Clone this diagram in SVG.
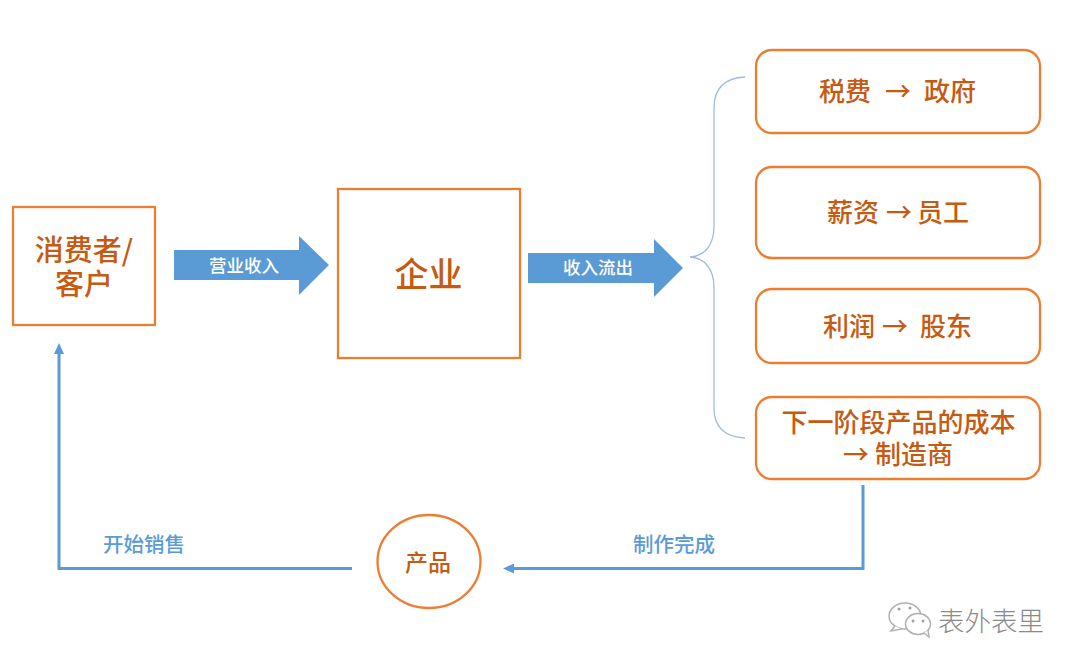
<svg xmlns="http://www.w3.org/2000/svg" width="1080" height="669" viewBox="0 0 1080 669">
<defs>
<marker id="ah" markerUnits="userSpaceOnUse" markerWidth="12" markerHeight="10" refX="1" refY="5" orient="auto"><path d="M0 0L11 5L0 10Z" fill="#5b9bd5"/></marker>
</defs>
<style>
text{font-family:"Noto Sans CJK SC","Liberation Sans",sans-serif;text-anchor:middle;font-weight:500}
.o{fill:#fff;stroke:#ed7d31;stroke-width:2.300}
.t{fill:#c55a11;font-size:26px}
.w{fill:#fff;font-size:17.500px}
.b{fill:#5b9bd5;font-size:20.500px}
.fl{fill:#5b9bd5;stroke:none}
.ln{fill:none;stroke:#5b9bd5;stroke-width:3}
.br{fill:none;stroke:#a3bbdc;stroke-width:1.300}
.wm{fill:#8a8a8a;font-size:26.500px;font-weight:300;text-anchor:start}
.wi{fill:#fff;stroke:#b0b0b0;stroke-width:1.500}
.wd{fill:#a0a0a0}
</style>
<rect width="1080" height="669" fill="#fff"/>
<g id="connectors">
<polygon class="fl" points="174,250 299,250 299,236 329,265 299,295 299,280 174,280"/>
<polygon class="fl" points="528,253 654,253 654,239 683,268 654,297 654,283 528,283"/>
<path class="br" d="M745 77C725 78 714 88 714 108V226C714 245 705 256 690 257C705 258 714 269 714 288V408C714 427 725 437 745 438"/>
<path class="ln" d="M863 485V568.500H513" marker-end="url(#ah)"/>
<path class="ln" d="M352 568.500H59V353" marker-end="url(#ah)"/>
</g>
<g id="customer"><rect class="o" x="13" y="207" width="142" height="118"/><text class="t" style="font-size:29px" x="84" y="261">消费者/</text><text class="t" style="font-size:29px" x="84" y="295">客户</text></g>
<g id="enterprise"><rect class="o" x="338" y="189" width="182" height="169"/><text class="t" style="font-size:34px" x="428.500" y="287">企业</text></g>
<g id="tax"><rect class="o" x="756" y="50" width="284" height="83" rx="16"/><text class="t" x="845" y="101">税费</text><text class="t" x="898" y="101">→</text><text class="t" x="950" y="101">政府</text></g>
<g id="salary"><rect class="o" x="756" y="167" width="284" height="91" rx="16"/><text class="t" x="853" y="222">薪资</text><text class="t" x="899" y="222">→</text><text class="t" x="943" y="222">员工</text></g>
<g id="profit"><rect class="o" x="756" y="289" width="284" height="74" rx="16"/><text class="t" x="849" y="336">利润</text><text class="t" x="895" y="336">→</text><text class="t" x="946" y="336">股东</text></g>
<g id="cost"><rect class="o" x="756" y="397" width="284" height="82" rx="16"/><text class="t" x="898.500" y="432">下一阶段产品的成本</text><text class="t" x="898" y="464">→ 制造商</text></g>
<g id="product"><ellipse class="o" cx="429" cy="561.500" rx="51.500" ry="46.500"/><text class="t" style="font-size:23px" x="428" y="571">产品</text></g>
<g id="labels">
<text class="w" x="244" y="272">营业收入</text>
<text class="w" x="598" y="274">收入流出</text>
<text class="b" x="144" y="552">开始销售</text>
<text class="b" x="674" y="552">制作完成</text>
</g>
<g id="watermark">
<ellipse class="wi" cx="905" cy="616" rx="16" ry="13"/>
<path class="wi" d="M895 626L891 631L902 629"/>
<ellipse class="wi" cx="918" cy="624" rx="12.500" ry="10.500"/>
<path class="wi" d="M924 633L929 637L928 630"/>
<circle class="wd" cx="899" cy="609" r="1.500"/><circle class="wd" cx="910" cy="608" r="1.500"/>
<circle class="wd" cx="913" cy="621" r="1.500"/><circle class="wd" cx="923" cy="621" r="1.500"/>
<text class="wm" x="938" y="631">表外表里</text>
</g>
</svg>
